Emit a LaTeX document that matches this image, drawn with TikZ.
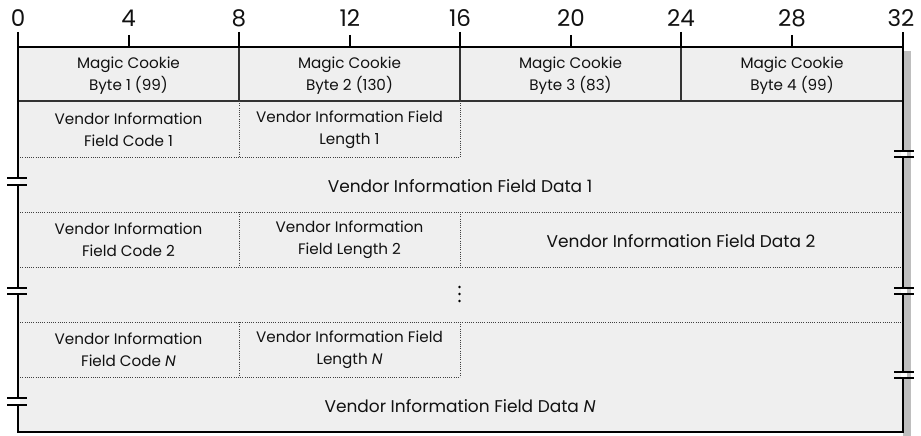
\documentclass[tikz,border=0pt]{standalone}
\usepackage{fontspec}
\setmainfont{Poppins}
\definecolor{bgfill}{HTML}{EFEFEF}
\definecolor{shadowc}{HTML}{BEBEBE}
\definecolor{txt}{HTML}{111111}
\tikzset{
  frameline/.style={line width=2.3pt, black},
  solidsep/.style={line width=1.1pt, black!80},
  dotsep/.style={line width=0.9pt, black!75, dash pattern=on 0.9pt off 1.3pt},
  lbl/.style={font=\fontsize{15.2}{22}\selectfont, align=center, text=txt, inner sep=0pt},
  datalbl/.style={font=\fontsize{17}{22}\selectfont, align=center, text=txt, inner sep=0pt},
  scalenum/.style={font=\fontsize{23}{23}\selectfont, text=txt, anchor=base, inner sep=0pt},
  tickline/.style={line width=1.8pt, black},
}
\newcommand\brkmark[2]{%
  \fill[white] (#1-3,#2-2.6) rectangle (#1+3,#2+2.6);
  \draw[line width=2pt] (#1-10,#2-3.3) -- (#1+10,#2-3.3);
  \draw[line width=2pt] (#1-10,#2+3.3) -- (#1+10,#2+3.3);
}
\begin{document}
\begin{tikzpicture}[x=1pt,y=-1pt]
\useasboundingbox (0,0) rectangle (921,436);
% shadow and background
\fill[shadowc] (903,51) rectangle (911,436);
\fill[bgfill] (18,47) rectangle (903,432);
% bit positions
\coordinate (b0) at (18,47);
\coordinate (b8) at (239,47);
\coordinate (b16) at (460,47);
\coordinate (b24) at (681,47);
\coordinate (b32) at (903,47);
% scale labels
\foreach \v/\xx in {0/18,4/128.6,8/239,12/349.8,16/460,20/571,24/681,28/792,32/901}
  \node[scalenum] (n\v) at (\xx,27) {\v};
% ticks
\foreach \xx in {239,460,681} \draw[tickline] (\xx,32) -- (\xx,47);
\foreach \xx in {128.6,349.8,571,792} \draw[tickline] (\xx,35) -- (\xx,47);
% row 1 solid separators
\draw[solidsep] (18,101) -- (903,101);
\foreach \xx in {239,460,681} \draw[solidsep] (\xx,47) -- (\xx,101);
% dotted separators
\draw[dotsep] (239,101) -- (239,157);
\draw[dotsep] (460,101) -- (460,157);
\draw[dotsep] (18,157) -- (460,157);
\draw[dotsep] (18,212) -- (903,212);
\draw[dotsep] (239,212) -- (239,267);
\draw[dotsep] (460,212) -- (460,267);
\draw[dotsep] (18,267) -- (903,267);
\draw[dotsep] (18,322) -- (903,322);
\draw[dotsep] (239,322) -- (239,377);
\draw[dotsep] (460,322) -- (460,377);
\draw[dotsep] (18,377) -- (460,377);
% frame
\draw[frameline] (18,32) -- (18,432) -- (903,432) -- (903,32);
\draw[frameline] (18,47) -- (903,47);
% break marks
\brkmark{17}{181.7}
\brkmark{17}{290.8}
\brkmark{17}{401.7}
\brkmark{904}{154}
\brkmark{904}{291}
\brkmark{904}{375}
% texts
\node[lbl] (mc1) at (128.5,76) {Magic Cookie\\Byte 1 (99)};
\node[lbl] (mc2) at (349.5,76) {Magic Cookie\\Byte 2 (130)};
\node[lbl] (mc3) at (570.5,76) {Magic Cookie\\Byte 3 (83)};
\node[lbl] (mc4) at (792,76) {Magic Cookie\\Byte 4 (99)};
\node[lbl] (c1) at (128.5,130) {Vendor Information\\Field Code 1};
\node[lbl] (l1) at (349.5,130) {Vendor Information Field\\Length 1};
\node[datalbl] (d1) at (460,186) {Vendor Information Field Data 1};
\node[lbl] (c2) at (128.5,240) {Vendor Information\\Field Code 2};
\node[lbl] (l2) at (349.5,240) {Vendor Information\\Field Length 2};
\node[datalbl] (d2) at (681,241) {Vendor Information Field Data 2};
\foreach \yy in {287,294,301} \fill[black] (459.5,\yy) circle (1.3);
\node[lbl] (cn) at (128.5,350) {Vendor Information\\Field Code \textit{N}};
\node[lbl] (ln) at (349.5,350) {Vendor Information Field\\Length \textit{N}};
\node[datalbl] (dn) at (460,406) {Vendor Information Field Data \textit{N}};
\end{tikzpicture}
\end{document}
